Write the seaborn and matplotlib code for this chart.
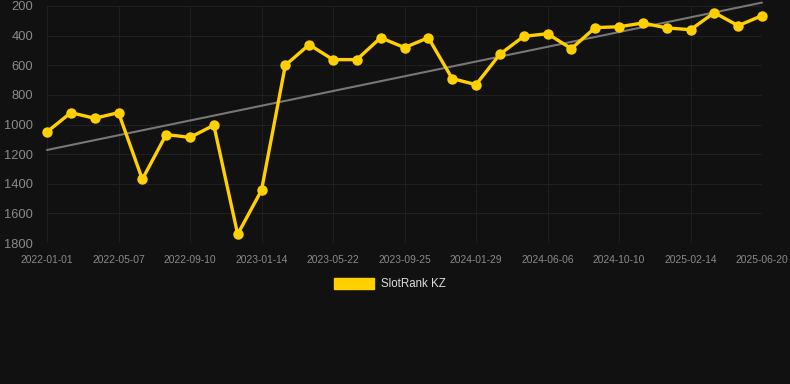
import matplotlib
matplotlib.use("Agg")
import matplotlib.pyplot as plt
import matplotlib.patches as mpatches
import seaborn as sns
import pandas as pd
import numpy as np

# ---- data ----
rank_values = [1050, 920, 958, 920, 1370, 1068, 1087, 1005, 1741, 1444,
               600, 461, 562, 562, 414, 481, 414, 690, 731, 526,
               405, 387, 488, 346, 340, 315, 348, 360, 245, 333, 265]
trend_values = [1172, 177]
tick_labels = ["2022-01-01", "2022-05-07", "2022-09-10", "2023-01-14", "2023-05-22",
               "2023-09-25", "2024-01-29", "2024-06-06", "2024-10-10", "2025-02-14",
               "2025-06-20"]
label_every = 3
y_ticks = [200, 400, 600, 800, 1000, 1200, 1400, 1600, 1800]
series_name = "SlotRank KZ"

idx = np.arange(len(rank_values))
df = pd.DataFrame({"i": idx, "rank": rank_values})
trend_df = pd.DataFrame({"i": [idx[0], idx[-1]], "rank": trend_values})

BG = "#111111"
sns.set_theme(style="dark")
plt.rcParams["font.family"] = ["Liberation Sans", "DejaVu Sans"]

fig = plt.figure(figsize=(7.90, 3.84), dpi=100, facecolor=BG)
ax = fig.add_axes([47 / 790, 1 - 243 / 384, (762 - 47) / 790, (243 - 6) / 384])
ax.set_facecolor(BG)

sns.lineplot(data=trend_df, x="i", y="rank", ax=ax, color="#777777",
             linewidth=1.5, clip_on=False, legend=False)
sns.lineplot(data=df, x="i", y="rank", ax=ax, color="#FFD000",
             linewidth=2.4, marker="o", markersize=7.5, markeredgewidth=0,
             clip_on=False, legend=False)

ax.set_xlim(idx[0], idx[-1])
ax.set_ylim(1800, 200)
ax.set_yticks(y_ticks)
ax.set_yticklabels([str(v) for v in y_ticks], fontsize=9.3, color="#8a8a8a")
ax.set_xticks(idx[::label_every])
ax.set_xticklabels(tick_labels, fontsize=7.4, color="#8a8a8a")
ax.set_xlabel("")
ax.set_ylabel("")

ax.grid(True, color="#1f1f1f", linewidth=0.8)
ax.tick_params(axis="y", length=0, pad=10)
ax.tick_params(axis="x", length=5, color="#1f1f1f", pad=3.5)
for s in ax.spines.values():
    s.set_visible(False)

handle = mpatches.Patch(facecolor="#FFD000", edgecolor="#FFD000", label=series_name)
fig.legend(handles=[handle], loc="center", bbox_to_anchor=(390 / 790, 1 - 284 / 384),
           frameon=False, fontsize=8.3, handlelength=3.5, handleheight=1.1,
           handletextpad=0.6, labelcolor="#dddddd")

fig.savefig("out.png", dpi=100, facecolor=BG)
